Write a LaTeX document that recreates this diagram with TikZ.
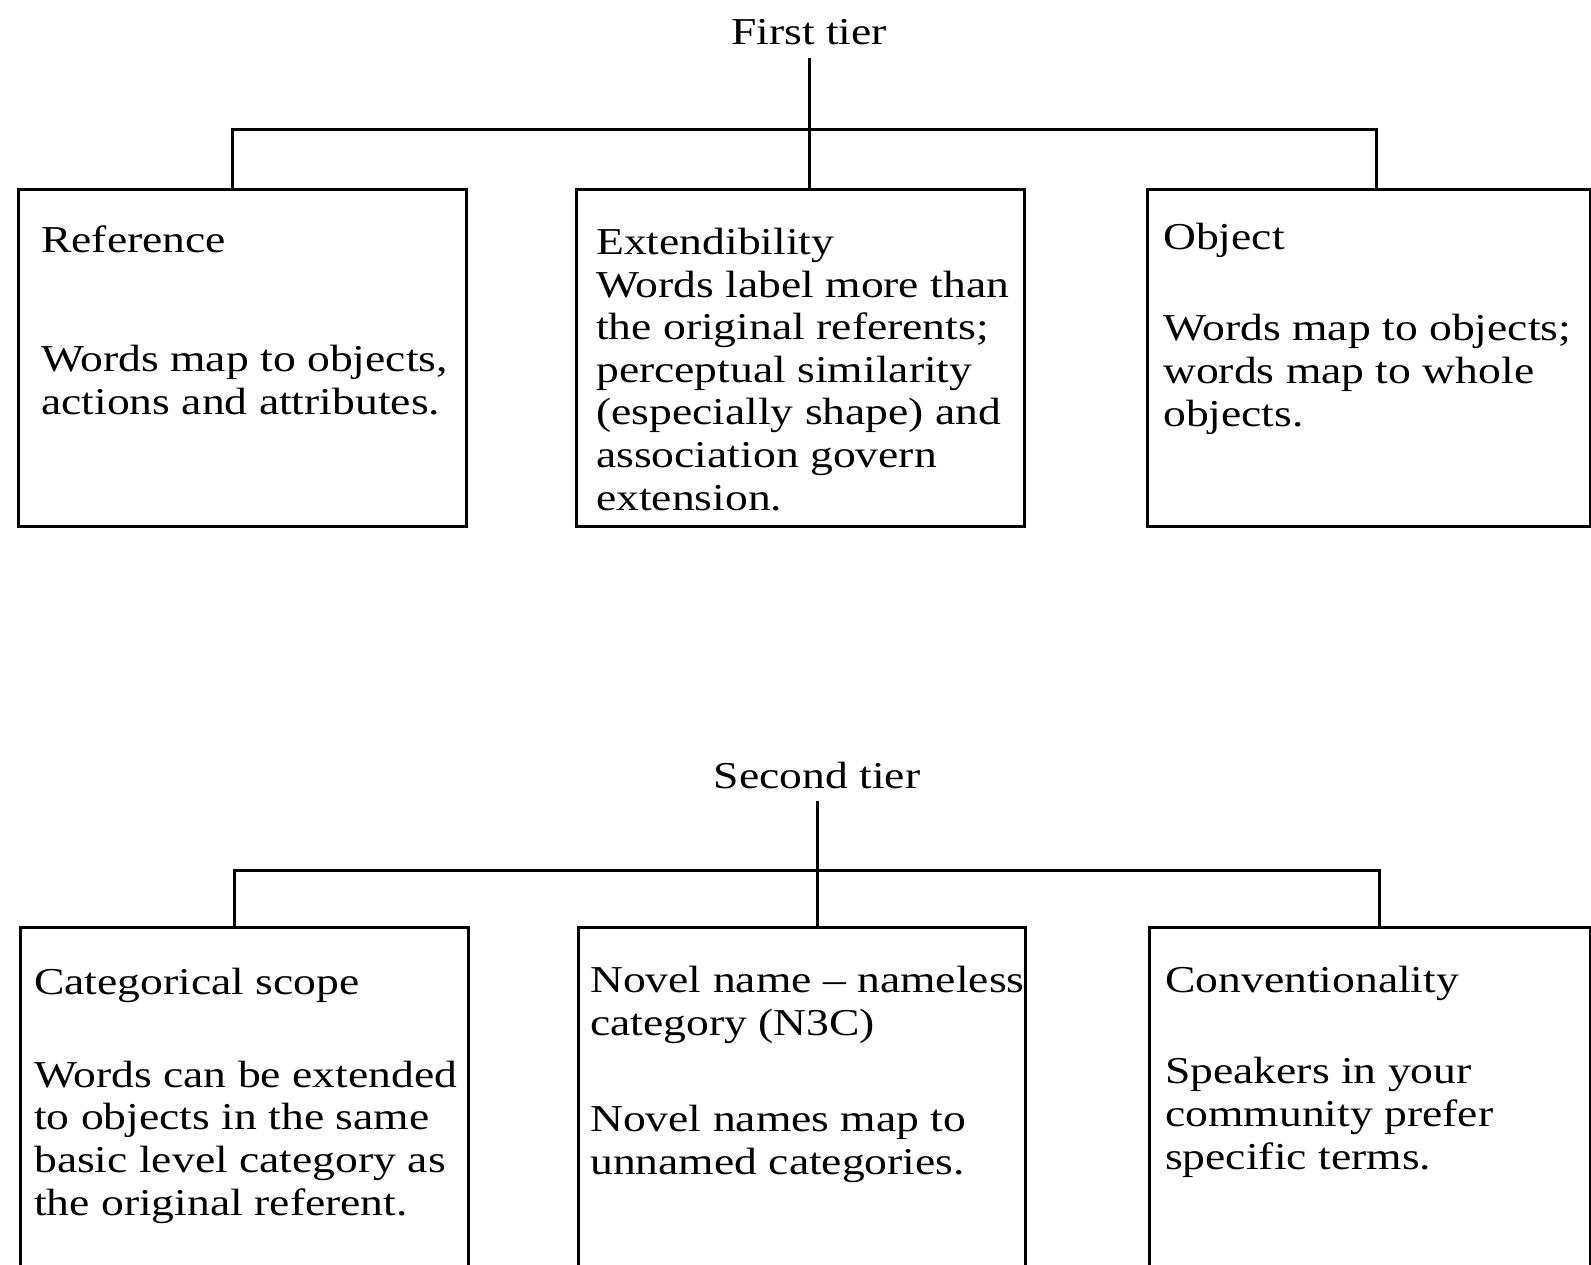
\documentclass[tikz,border=0pt]{standalone}
\usepackage{fontspec}
\setmainfont{Liberation Serif}[FakeStretch=1.2]
\usepackage{tikz}
\usetikzlibrary{positioning}
\tikzstyle{box} = [rectangle, draw=black, line width=3pt, inner sep=0pt, anchor=north west, minimum width=448pt, minimum height=337pt]
\tikzstyle{lowbox} = [box, minimum height=339pt]
\tikzstyle{tier} = [draw=none, fill=none, inner sep=0pt, anchor=base, font=\fontsize{38}{42.6}\selectfont]
\tikzstyle{txt} = [draw=none, fill=none, inner sep=0pt, anchor=base west, align=left, font=\fontsize{38}{42.6}\selectfont]
\tikzstyle{link} = [draw, line width=3pt]

\begin{document}
\begin{tikzpicture}[x=1pt, y=-1pt]
\useasboundingbox (0,0) rectangle (1591,1265);

% first tier =============================

% nodes (multi-line texts sit on their last baseline)
\node[tier] (first) at (809,45) {First tier};
\node[box] (ref) at (17,188) {};
\node[box] (ext) at (575,188) {};
\node[box, minimum width=443pt] (obj) at (1146,188) {};
\coordinate (lbar1) at (232,130);
\coordinate (rbar1) at (1376,130);

\node[txt] (refT) at (41,253) {Reference};
\node[txt] (refB) at (41,414) {Words map to objects,\\actions and attributes.};
\node[txt] (extT) at (596,510) {Extendibility\\Words label more than\\the original referents;\\perceptual similarity\\(especially shape) and\\association govern\\extension.};
\node[txt] (objT) at (1163,250) {Object};
\node[txt] (objB) at (1163,426) {Words map to objects;\\words map to whole\\objects.};

% edges
\path[link] (first.south) ++(0,-12pt) -- (first.south |- ext.north);
\path[link] (ref.north -| lbar1) -- (lbar1) -- (rbar1) -- (obj.north -| rbar1);

% second tier ============================

% nodes
\node[tier] (second) at (817,788) {Second tier};
\node[lowbox] (cat) at (19,926) {};
\node[lowbox, minimum width=447pt] (novel) at (577,926) {};
\node[lowbox, minimum width=441pt] (conv) at (1148,926) {};
\coordinate (lbar2) at (234,870);
\coordinate (rbar2) at (1379,870);

\node[txt] (catT) at (34,994) {Categorical scope};
\node[txt] (catB) at (34,1215) {Words can be extended\\to objects in the same\\basic level category as\\the original referent.};
\node[txt] (novelT) at (590,1035) {Novel name -- nameless\\category (N3C)};
\node[txt] (novelB) at (590,1174) {Novel names map to\\unnamed categories.};
\node[txt] (convT) at (1165,992) {Conventionality};
\node[txt] (convB) at (1165,1169) {Speakers in your\\community prefer\\specific terms.};

% edges
\path[link] (second.south) ++(0,-12pt) -- (second.south |- novel.north);
\path[link] (cat.north -| lbar2) -- (lbar2) -- (rbar2) -- (conv.north -| rbar2);

\end{tikzpicture}
\end{document}
